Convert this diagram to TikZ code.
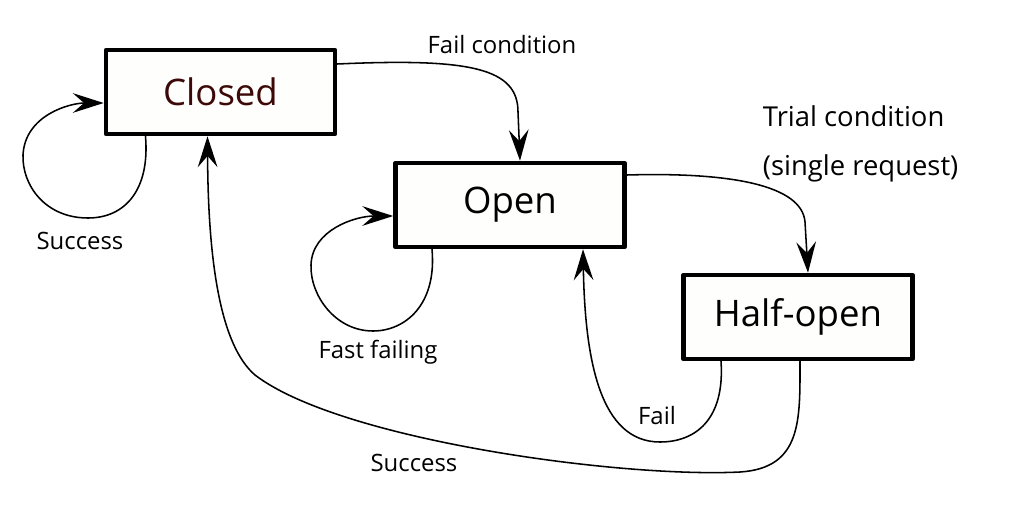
\documentclass[tikz,border=0pt]{standalone}
\usepackage{fontspec}
\setmainfont{Open Sans}
\usetikzlibrary{arrows.meta,calc}
\definecolor{boxfill}{RGB}{254,254,252}
\definecolor{closedred}{RGB}{60,8,8}
\begin{document}
\begin{tikzpicture}[x=0.025cm,y=-0.025cm,>={Stealth[length=22pt,width=14pt,inset=8pt]},line join=round,line cap=round,
		state/.style={draw,line width=3.2pt,fill=boxfill,minimum width=5.725cm,minimum height=2.1cm,font=\fontsize{26}{30}\selectfont},
		trans/.style={->,line width=1.1pt},
		lbl/.style={font=\fontsize{17}{20}\selectfont}]
			\useasboundingbox (0,0) rectangle (1024,512);
			\node[state,text=closedred] (closed) at (220.5,92) {Closed};
			\node[state] (open) at (510,205) {Open};
			\node[state] (half) at (798,317) {Half-open};
			% closed
			\draw[trans] ($(closed.south)+(-75,0)$) .. controls (150,190) and (125,218) .. (88,218)
				.. controls (45,218) and (22,185) .. (23,155)
				.. controls (25,115) and (70,103) .. ($(closed.west)+(0,11)$);
			\node[lbl] (lsucc1) at (80,241) {Success};
			\draw[trans] ($(closed.east)+(0,-28)$) .. controls (470,58) and (518,68) .. (518,112) -- ($(open.north)+(10,0)$);
			\node[lbl] (lfailc) at (502,45) {Fail condition};
			% open
			\draw[trans] ($(open.south)+(-78,0)$) .. controls (437,305) and (405,331) .. (373,331)
				.. controls (335,331) and (310,295) .. (311,265)
				.. controls (312,230) and (355,216) .. ($(open.west)+(0,11)$);
			\node[lbl] (lfast) at (378,352) {Fast failing};
			\draw[trans] ($(open.east)+(0,-30)$) .. controls (730,172) and (802,185) .. (805,222) -- ($(half.north)+(10,0)$);
			\node[anchor=west,align=left,font=\fontsize{19.5}{35}\selectfont] (ltrial) at (758,144) {Trial condition\\(single request)};
			% half-open
			\draw[trans] ($(half.south)+(-77,0)$) .. controls (725,420) and (695,442) .. (660,442)
				.. controls (600,442) and (585,360) .. ($(open.south)+(73,0)$);
			\node[lbl] (lfail) at (657,416) {Fail};
			\draw[trans] ($(half.south)+(2,0)$) .. controls (800,420) and (802,468) .. (740,472)
				.. controls (620,478) and (340,440) .. (255,375)
				.. controls (220,345) and (208,260) .. ($(closed.south)+(-13,0)$);
			\node[lbl] (lsucc2) at (414,463) {Success};
		\end{tikzpicture}
\end{document}
